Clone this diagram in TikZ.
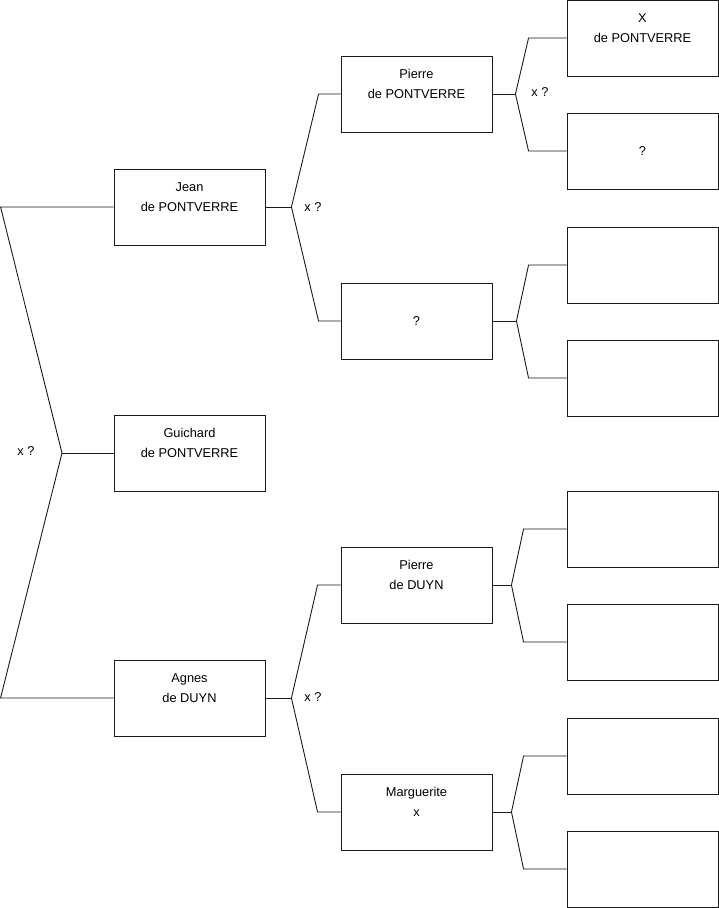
\documentclass[tikz,border=0pt]{standalone}
\usepackage{fontspec}
\setmainfont{Liberation Sans}
\usetikzlibrary{positioning,calc}
\definecolor{edge}{HTML}{1A1A1A}
\tikzset{
  personbox/.style={
    draw=edge,
    line width=0.9pt,
    minimum width=151pt,
    minimum height=76pt,
    inner sep=0pt,
    align=center,
    font=\fontsize{12.8}{20}\selectfont
  },
  forkline/.style={draw=edge,line width=0.9pt},
  marriage/.style={font=\fontsize{12.8}{15}\selectfont,inner sep=0pt}
}

\begin{document}
\begin{tikzpicture}[x=1pt,y=-1pt]
\useasboundingbox (0,0) rectangle (719,908);
% generation 1
\node[personbox] (jean) at (189.5,207) {Jean\\de PONTVERRE\\\mbox{}};
\node[personbox] (guichard) at (189.5,453) {Guichard\\de PONTVERRE\\\mbox{}};
\node[personbox] (agnes) at (189.5,698) {Agnes\\de DUYN\\\mbox{}};
% generation 2
\node[personbox] (pierrep) at (416.5,94) {Pierre\\de PONTVERRE\\\mbox{}};
\node[personbox] (unknownp) at (416.5,321) {?};
\node[personbox] (pierred) at (416.5,585) {Pierre\\de DUYN\\\mbox{}};
\node[personbox] (marguerite) at (416.5,812) {Marguerite\\x\\\mbox{}};
% generation 3
\node[personbox] (xpontverre) at (642.5,38) {X\\de PONTVERRE\\\mbox{}};
\node[personbox] (unknownpp) at (642.5,151) {?};
\node[personbox] (empty1) at (642.5,265) {};
\node[personbox] (empty2) at (642.5,378) {};
\node[personbox] (empty3) at (642.5,529) {};
\node[personbox] (empty4) at (642.5,642) {};
\node[personbox] (empty5) at (642.5,756) {};
\node[personbox] (empty6) at (642.5,869) {};

% forks
\coordinate (rootfork) at (62,453);
\draw[forkline] (guichard.west) -- (rootfork);
\draw[forkline] (rootfork) -- ([xshift=-113pt]jean.west) -- (jean.west);
\draw[forkline] (rootfork) -- ([xshift=-113pt]agnes.west) -- (agnes.west);
\node[marriage] (m0) at (26,451) {x ?};

\draw[forkline] (jean.east) -- ++(26,0) coordinate (jeanfork);
\draw[forkline] (jeanfork) -- ([xshift=-22pt]pierrep.west) -- (pierrep.west);
\draw[forkline] (jeanfork) -- ([xshift=-22pt]unknownp.west) -- (unknownp.west);
\node[marriage] (m1) at (313,207) {x ?};

\draw[forkline] (agnes.east) -- ++(26,0) coordinate (agnesfork);
\draw[forkline] (agnesfork) -- ([xshift=-23pt]pierred.west) -- (pierred.west);
\draw[forkline] (agnesfork) -- ([xshift=-23pt]marguerite.west) -- (marguerite.west);
\node[marriage] (m2) at (313,697) {x ?};

\draw[forkline] (pierrep.east) -- ++(23,0) coordinate (pierrepfork);
\draw[forkline] (pierrepfork) -- ([xshift=-38pt]xpontverre.west) -- (xpontverre.west);
\draw[forkline] (pierrepfork) -- ([xshift=-38pt]unknownpp.west) -- (unknownpp.west);
\node[marriage] (m3) at (540,92) {x ?};

\draw[forkline] (unknownp.east) -- ++(24,0) coordinate (unknownpfork);
\draw[forkline] (unknownpfork) -- ([xshift=-38pt]empty1.west) -- (empty1.west);
\draw[forkline] (unknownpfork) -- ([xshift=-38pt]empty2.west) -- (empty2.west);

\draw[forkline] (pierred.east) -- ++(19,0) coordinate (pierredfork);
\draw[forkline] (pierredfork) -- ([xshift=-43pt]empty3.west) -- (empty3.west);
\draw[forkline] (pierredfork) -- ([xshift=-43pt]empty4.west) -- (empty4.west);

\draw[forkline] (marguerite.east) -- ++(19,0) coordinate (margueritefork);
\draw[forkline] (margueritefork) -- ([xshift=-43pt]empty5.west) -- (empty5.west);
\draw[forkline] (margueritefork) -- ([xshift=-43pt]empty6.west) -- (empty6.west);
\end{tikzpicture}
\end{document}
